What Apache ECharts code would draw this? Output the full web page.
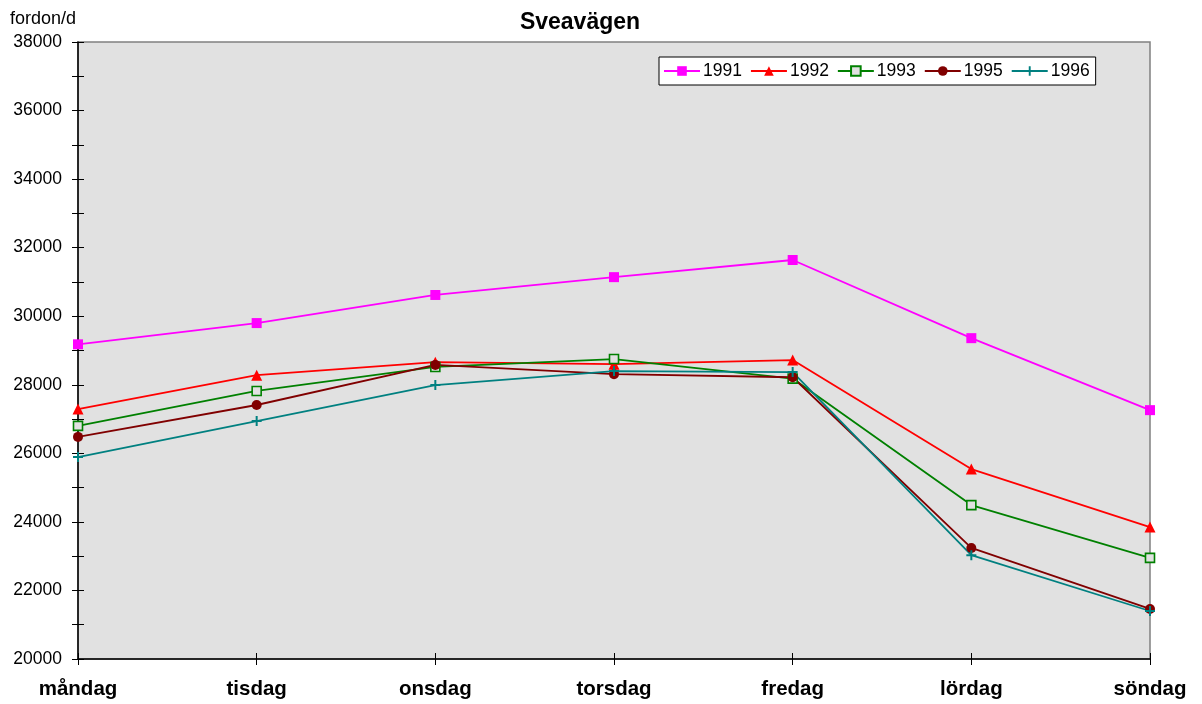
<!DOCTYPE html>
<html><head><meta charset="utf-8">
<script src="https://cdn.jsdelivr.net/npm/echarts@6/dist/echarts.min.js"></script>
<style>html,body{margin:0;padding:0;background:#fff}#c{width:1202px;height:704px}</style>
</head><body><div id="c"></div>
<script>
const categories = ['måndag','tisdag','onsdag','torsdag','fredag','lördag','söndag'];
const seriesNames = ['1991','1992','1993','1995','1996'];
const v1991 = [29180, 29800, 30620, 31140, 31640, 29360, 27260];
const v1992 = [27290, 28280, 28660, 28600, 28720, 25540, 23850];
const v1993 = [26800, 27820, 28520, 28750, 28180, 24490, 22950];
const v1995 = [26480, 27410, 28580, 28310, 28220, 23240, 21460];
const v1996 = [25890, 26940, 27990, 28400, 28370, 23030, 21400];
const yTicks = [20000, 22000, 24000, 26000, 28000, 30000, 32000, 34000, 36000, 38000];

const colors = ['#ff00ff','#ff0000','#008000','#800000','#008080'];
const symbols = ['rect','triangle','rect','circle','path://M4,0H6V4H10V6H6V10H4V6H0V4H4Z'];
const sizes = [10, 11, 9, 10, 10];
const values = [v1991, v1992, v1993, v1995, v1996];
const font = 'Liberation Sans, Arial, sans-serif';

const series = seriesNames.map((n, i) => ({
  name: n, type: 'line', data: values[i], xAxisIndex: 0, yAxisIndex: 0,
  symbol: symbols[i], symbolSize: sizes[i], showSymbol: true,
  lineStyle: { color: colors[i], width: 1.8 },
  itemStyle: i === 2 ? { color: '#e1e1e1', borderColor: colors[i], borderWidth: 1.6 }
                     : { color: colors[i], borderWidth: 0 },
  emphasis: { disabled: true }, animation: false, z: 3
}));

const chart = echarts.init(document.getElementById('c'), null, { renderer: 'canvas' });
chart.setOption({
  animation: false,
  backgroundColor: '#ffffff',
  title: { text: 'Sveavägen', left: 575, textAlign: 'center', top: 6,
    textStyle: { fontFamily: font, fontSize: 23, fontWeight: 'bold', color: '#000' } },
  legend: {
    data: seriesNames, left: 659, top: 57, orient: 'horizontal',
    backgroundColor: '#ffffff', borderColor: '#000', borderWidth: 1,
    padding: [5, 6, 5, 4], itemGap: 8, itemWidth: 36, itemHeight: 12,
    textStyle: { fontFamily: font, fontSize: 17.5, color: '#000', padding: [0, 0, 0, -2] }
  },
  grid: { left: 78, right: 52, top: 42, bottom: 45, show: true,
    backgroundColor: '#e1e1e1', borderColor: '#808080', borderWidth: 1.5 },
  xAxis: [{
    type: 'category', data: categories, boundaryGap: false,
    axisLine: { lineStyle: { color: '#000', width: 1.5 } },
    axisTick: { show: true, inside: false, length: 6, lineStyle: { color: '#000' } },
    axisLabel: { fontFamily: font, fontSize: 20.5, fontWeight: 'bold', color: '#000', margin: 20 },
    splitLine: { show: false }
  }, {
    type: 'category', data: categories, boundaryGap: false, position: 'bottom',
    axisLine: { show: false },
    axisTick: { show: true, inside: true, length: 6, lineStyle: { color: '#000' } },
    axisLabel: { show: false }, splitLine: { show: false }
  }],
  yAxis: [{
    type: 'value', min: 20000, max: 38000, interval: 2000,
    name: 'fordon/d', nameLocation: 'end', nameGap: 14,
    nameTextStyle: { fontFamily: font, fontSize: 18, color: '#000', align: 'right', padding: [0, 2, 0, 0] },
    axisLine: { show: true, lineStyle: { color: '#000', width: 1.5 } },
    axisTick: { show: true, inside: false, length: 6, lineStyle: { color: '#000' } },
    minorTick: { show: true, splitNumber: 2, length: 6, lineStyle: { color: '#000' } },
    axisLabel: { fontFamily: font, fontSize: 17.5, color: '#000', margin: 16,
      formatter: v => yTicks.includes(v) ? String(v) : '' },
    splitLine: { show: false }
  }, {
    type: 'value', min: 20000, max: 38000, interval: 2000, position: 'left',
    axisLine: { show: false },
    axisTick: { show: true, inside: true, length: 6, lineStyle: { color: '#000' } },
    minorTick: { show: true, splitNumber: 2, length: 6, lineStyle: { color: '#000' } },
    axisLabel: { show: false }, splitLine: { show: false }
  }],
  series: series
});
</script></body></html>
